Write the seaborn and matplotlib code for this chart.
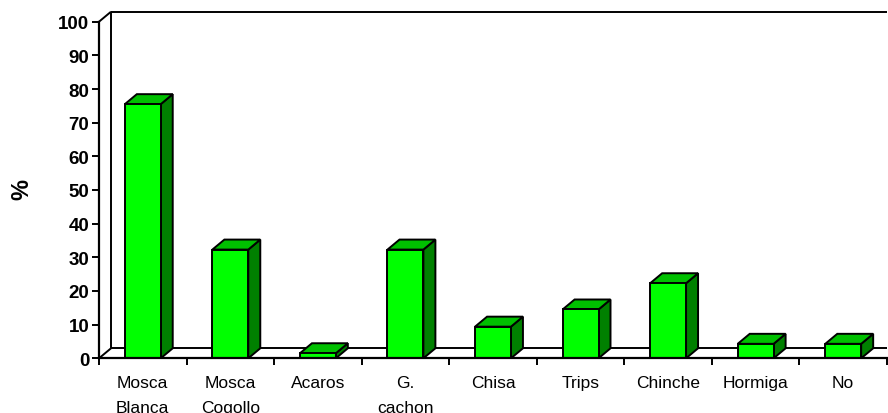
import matplotlib
matplotlib.use("Agg")
import matplotlib.pyplot as plt
import seaborn as sns
import pandas as pd
from matplotlib.patches import Polygon
from matplotlib.lines import Line2D

categories = ["Mosca\nBlanca", "Mosca\nCogollo", "Acaros", "G.\ncachon", "Chisa",
              "Trips", "Chinche", "Hormiga", "No"]
values = [75.5, 32.3, 1.5, 32.3, 9.4, 14.5, 22.3, 4.3, 4.3]
yticks = [0, 10, 20, 30, 40, 50, 60, 70, 80, 90, 100]

sns.set_theme(style="white")
plt.rcParams["font.family"] = ["Liberation Sans", "DejaVu Sans"]
plt.rcParams["text.color"] = "black"

W, H, DPI = 888, 414, 100
fig = plt.figure(figsize=(W / DPI, H / DPI), dpi=DPI)
ax_left, ax_right, ax_top, ax_bot = 99, 887, 22.7, 359.3
ax = fig.add_axes([ax_left / W, (H - ax_bot) / H, (ax_right - ax_left) / W, (ax_bot - ax_top) / H])

df = pd.DataFrame({"cat": categories, "val": values})
lw = 1.4
sns.barplot(data=df, x="cat", y="val", ax=ax, color="#00FF00", saturation=1,
            edgecolor="black", linewidth=lw, width=0.41, zorder=5)

ax.set_xlim(-0.5, len(categories) - 0.5)
ax.set_ylim(0, 100)

# depth offsets in data units (12 px right, 10 px up)
px_per_x = (ax_right - ax_left) / len(categories)
px_per_y = (ax_bot - ax_top) / 100.0
dx = 12 / px_per_x
dy = 10 / px_per_y

x0, x1 = -0.5, len(categories) - 0.5
line_kw = dict(color="black", lw=lw, clip_on=False, zorder=1, solid_capstyle="butt")
# back wall & floor
ax.add_line(Line2D([x0 + dx, x0 + dx], [dy, 100 + dy], **line_kw))
ax.add_line(Line2D([x0 + dx, x1], [100 + dy, 100 + dy], **line_kw))
ax.add_line(Line2D([x0, x0 + dx], [100, 100 + dy], **line_kw))
ax.add_line(Line2D([x0 + dx, x1], [dy, dy], **line_kw))
ax.add_line(Line2D([x0, x0 + dx], [0, dy], **line_kw))

# 3D faces of bars
for p in ax.patches[:len(categories)]:
    bx, bw, bh = p.get_x(), p.get_width(), p.get_height()
    side = Polygon([(bx + bw, 0), (bx + bw + dx, dy), (bx + bw + dx, bh + dy), (bx + bw, bh)],
                   closed=True, facecolor="#008000", edgecolor="black", lw=lw,
                   joinstyle="miter", zorder=4, clip_on=False)
    top = Polygon([(bx, bh), (bx + dx, bh + dy), (bx + bw + dx, bh + dy), (bx + bw, bh)],
                  closed=True, facecolor="#00C000", edgecolor="black", lw=lw,
                  joinstyle="miter", zorder=4, clip_on=False)
    ax.add_patch(side)
    ax.add_patch(top)

for s in ["top", "right"]:
    ax.spines[s].set_visible(False)
for s in ["left", "bottom"]:
    ax.spines[s].set_linewidth(1.6)
    ax.spines[s].set_color("black")
    ax.spines[s].set_zorder(6)

ax.set_yticks(yticks)
ax.set_yticklabels([str(v) for v in yticks], fontsize=13.5, fontweight="bold")
ax.tick_params(axis="y", direction="out", length=5, width=1.4, pad=2, left=True, colors="black")

ax.set_xticks(range(len(categories)))
ax.set_xticklabels(categories, fontsize=12.5, linespacing=1.8, va="top")
ax.set_xticks([i - 0.5 for i in range(len(categories) + 1)], minor=True)
ax.tick_params(axis="x", which="major", length=0, pad=12, colors="black")
ax.tick_params(axis="x", which="minor", direction="out", length=5, width=1.4, bottom=True, colors="black")

ax.set_xlabel("")
ax.set_ylabel("")
fig.text(22 / W, 1 - 190 / H, "%", rotation=90, fontsize=17, fontweight="bold",
         color="black", ha="center", va="center")

fig.savefig("out.png", dpi=DPI)
